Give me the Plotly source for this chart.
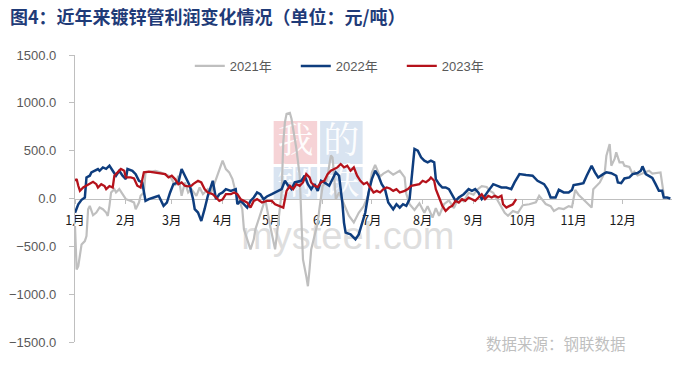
import pandas as pd
import plotly.graph_objects as go

# ---------------- data (day of year, profit in 元/吨) ----------------
days_2021 = [1,2,3,4,5,7,8,9,10,12,14,16,18,20,21,22,23,25,26,28,30,32,35,37,38,40,41,43,44,46,50,53,56,58,60,62,64,66,68,70,
             72,75,77,79,82,84,87,89,91,93,95,97,99,101,103,104,106,108,110,111,113,115,117,120,122,123,124,126,127,128,129,130,
             132,133,134,136,138,139,140,142,143,144,145,147,149,150,151,152,154,155,157,158,159,160,162,165,168,171,174,177,180,
             182,184,187,189,192,195,199,202,203,205,208,211,214,216,219,221,223,226,229,232,235,238,241,244,246,249,252,254,256,
             258,261,263,265,268,271,274,278,282,284,286,288,291,293,296,299,302,304,306,308,311,314,316,317,321,324,325,327,328,
             330,331,333,335,336,339,341,342,344,347,349,351,353,358,360]
profit_2021 = [-287,-742,-707,-567,-480,-445,-392,-112,-77,-175,-147,-94,-112,-147,-182,-77,63,98,63,98,45,-7,-25,-42,-112,-42,28,63,273,280,
               290,273,255,238,203,133,238,28,168,63,98,28,115,45,98,63,203,308,395,308,273,203,63,-7,-112,-322,-427,-532,-427,-322,
               -217,-112,-7,-287,-462,-532,-392,-112,63,588,798,885,896,833,728,518,238,-287,-637,-812,-917,-742,-532,-392,-252,-112,
               28,133,168,238,450,430,238,-7,63,-60,-180,-250,-150,-80,40,270,350,230,260,290,250,290,220,50,-60,-120,-50,-150,-80,
               -200,-100,-180,-60,-20,-100,10,-30,60,40,90,130,120,80,60,0,-100,-150,-180,-130,-150,-70,-60,-40,28,-20,-58,-80,-130,
               -100,-110,-80,-90,90,40,-10,-60,-95,98,168,273,448,570,343,413,483,378,380,343,330,255,280,240,260,273,290,260,273,40]

days_2022 = [1,3,5,7,8,10,11,13,15,16,18,20,22,24,26,28,30,32,33,36,38,40,42,44,46,49,52,55,57,59,61,64,66,68,70,71,73,74,76,78,
             80,82,85,87,89,91,93,96,99,100,102,104,106,108,110,112,114,116,118,121,123,127,129,131,133,135,139,141,143,145,147,149,
             151,153,156,158,160,162,163,164,165,166,169,172,174,176,178,180,182,184,186,188,190,192,195,197,199,201,203,205,206,208,
             210,212,214,216,218,220,221,223,225,227,229,231,233,235,238,241,243,245,247,249,251,253,256,259,261,264,267,269,272,276,
             280,283,285,287,289,291,294,296,299,302,304,305,308,311,313,315,316,318,320,323,325,328,331,332,334,336,339,341,344,346,
             347,349,352,353,355,357,359,360,362,364]
profit_2022 = [-150,-60,-14,10,220,238,273,290,308,290,325,310,343,290,238,290,238,203,308,290,255,185,168,-25,-7,10,28,-77,-42,63,
               150,168,308,238,168,133,-7,-112,-147,-235,-112,28,185,-7,45,63,98,80,98,-60,-25,-60,-95,-25,10,63,45,-7,21,45,63,98,
               185,133,98,168,185,238,150,98,150,80,185,168,133,203,273,238,98,-42,-252,-357,-375,-427,-375,-252,-147,63,203,290,238,
               150,98,-42,-112,-60,-95,-60,-77,-7,168,518,500,430,395,378,395,378,203,150,115,115,98,28,-25,10,45,98,80,98,60,-7,30,
               80,150,130,115,115,98,168,255,245,238,185,170,150,98,10,10,91,63,63,88,140,150,161,238,308,343,273,220,255,273,265,238,
               168,161,210,220,255,266,290,336,255,220,215,150,80,80,10,10,0]

days_2023 = [1,2,3,4,6,8,10,12,14,15,17,19,20,22,24,25,27,29,31,32,35,37,39,41,43,46,49,52,56,58,60,62,64,66,68,70,72,73,76,78,
             80,82,85,87,89,91,93,96,98,100,102,104,106,108,110,112,115,118,121,123,126,128,130,132,134,136,138,140,142,144,145,147,
             149,151,153,155,157,159,161,163,165,167,169,171,173,175,177,179,181,183,185,187,189,191,193,195,197,199,202,204,206,209,
             211,213,215,217,218,220,221,223,225,227,229,231,233,235,237,239,241,243,245,247,249,251,253,255,257,259,261,262,264,266,
             268,270]
profit_2023 = [185,203,133,80,115,133,150,175,150,115,150,130,98,130,115,238,273,308,290,220,220,210,133,115,273,280,273,266,255,220,
               238,203,150,168,133,126,133,150,185,168,98,63,45,10,-25,-10,45,45,63,45,-7,-25,-42,-95,-25,-7,-42,-25,-25,-60,-77,-95,
               80,133,98,150,133,168,255,220,168,133,120,168,185,255,290,308,325,360,325,343,290,325,238,185,150,168,115,63,80,63,98,
               115,105,80,98,63,80,98,133,140,150,185,170,196,220,185,98,10,-77,-130,-95,-77,-25,-42,-7,-25,10,-7,-25,10,45,-7,28,10,
               28,10,28,-60,-95,-77,-60,-7]

series_names = ["2021年", "2022年", "2023年"]
series_colors = ["#BFBFBF", "#0E3D7E", "#B5121B"]
series_widths = [2.2, 2.5, 2.3]
month_labels = ["1月", "2月", "3月", "4月", "5月", "6月", "7月", "8月", "9月", "10月", "11月", "12月"]
y_ticks = [1500, 1000, 500, 0, -500, -1000, -1500]

base = pd.Timestamp("2023-01-01")


def to_dates(days):
    return [base + pd.Timedelta(days=d - 1) for d in days]


fig = go.Figure()
for days, vals, name, color, w in zip([days_2021, days_2022, days_2023],
                                      [profit_2021, profit_2022, profit_2023],
                                      series_names, series_colors, series_widths):
    fig.add_trace(go.Scatter(x=to_dates(days), y=vals, mode="lines", name=name,
                             line=dict(color=color, width=w)))

month_starts = [pd.Timestamp(2023, m, 1) for m in range(1, 13)]

# watermark (below traces)
L, T, PW, PH = 68, 55, 604, 287
wm = [
    (269, 313, 121, 164, "rgba(238,175,181,0.55)", "我"),
    (316, 359, 121, 164, "rgba(180,201,228,0.5)", "的"),
    (269, 313, 167, 200, "rgba(180,201,228,0.5)", "钢"),
    (316, 359, 167, 200, "rgba(180,201,228,0.5)", "铁"),
]
shapes = []
for x0, x1, y0, y1, col, ch in wm:
    shapes.append(dict(type="rect", xref="paper", yref="paper", layer="below",
                       x0=(x0 - L) / PW, x1=(x1 - L) / PW,
                       y0=1 - (y1 - T) / PH, y1=1 - (y0 - T) / PH,
                       fillcolor=col, line=dict(width=0),
                       label=dict(text=ch, font=dict(color="rgba(255,255,255,0.95)", size=36,
                                                     family="Noto Serif CJK SC, Noto Sans CJK SC"))))
shapes.append(dict(type="rect", xref="paper", yref="paper", layer="below",
                   x0=(240 - L) / PW, x1=(448 - L) / PW,
                   y0=1 - (252 - T) / PH, y1=1 - (212 - T) / PH,
                   fillcolor="rgba(0,0,0,0)", line=dict(width=0),
                   label=dict(text="mysteel.com", font=dict(color="rgba(200,200,200,0.6)", size=38,
                                                           family="Liberation Sans"))))

fig.update_layout(
    width=681, height=370,
    margin=dict(l=L, r=9, t=T, b=28),
    paper_bgcolor="white", plot_bgcolor="white",
    title=dict(text="<b>图4：近年来镀锌管利润变化情况（单位：元/吨）</b>",
               x=10 / 681, xanchor="left", y=1 - 18 / 370, yanchor="middle",
               font=dict(family="Noto Sans CJK SC", size=18, color="#1F3B78")),
    legend=dict(orientation="h", x=(345 - L) / PW, xanchor="center", y=1 - 11 / PH, yanchor="middle",
                font=dict(family="Liberation Sans, Noto Sans CJK SC", size=13, color="#595959"),
                bgcolor="rgba(0,0,0,0)", itemwidth=30, entrywidth=61),
    showlegend=True,
    hovermode=False,
    shapes=shapes,
    annotations=[dict(text="数据来源：钢联数据", xref="paper", yref="paper",
                      x=(555 - L) / PW, y=1 - (343 - T) / PH, xanchor="center", yanchor="middle",
                      showarrow=False,
                      font=dict(family="Noto Sans CJK SC", size=15.5, color="#BFBFBF"))],
)

fig.update_xaxes(type="date", range=[base, pd.Timestamp("2023-12-31")],
                 anchor="free", position=0.5, layer="below traces",
                 showline=True, linecolor="#BFBFBF", linewidth=1.3,
                 ticks="outside", ticklen=4, tickcolor="#BFBFBF",
                 tickvals=month_starts, ticktext=month_labels,
                 ticklabelstandoff=6,
                 tickfont=dict(family="Noto Sans CJK SC", size=12.5, color="#1a1a1a"),
                 showgrid=False, zeroline=False)
fig.update_yaxes(range=[-1500, 1500], tickvals=y_ticks, tickformat=".1f",
                 showline=True, linecolor="#BFBFBF", linewidth=1.3,
                 ticks="outside", ticklen=5, tickcolor="#BFBFBF",
                 ticklabelstandoff=10,
                 tickfont=dict(family="Liberation Sans", size=13, color="#595959"),
                 showgrid=False, zeroline=False)

fig.write_html("out.html", config={"displayModeBar": False, "staticPlot": False},
               post_script="document.body.style.margin='0';document.body.style.overflow='hidden';")
